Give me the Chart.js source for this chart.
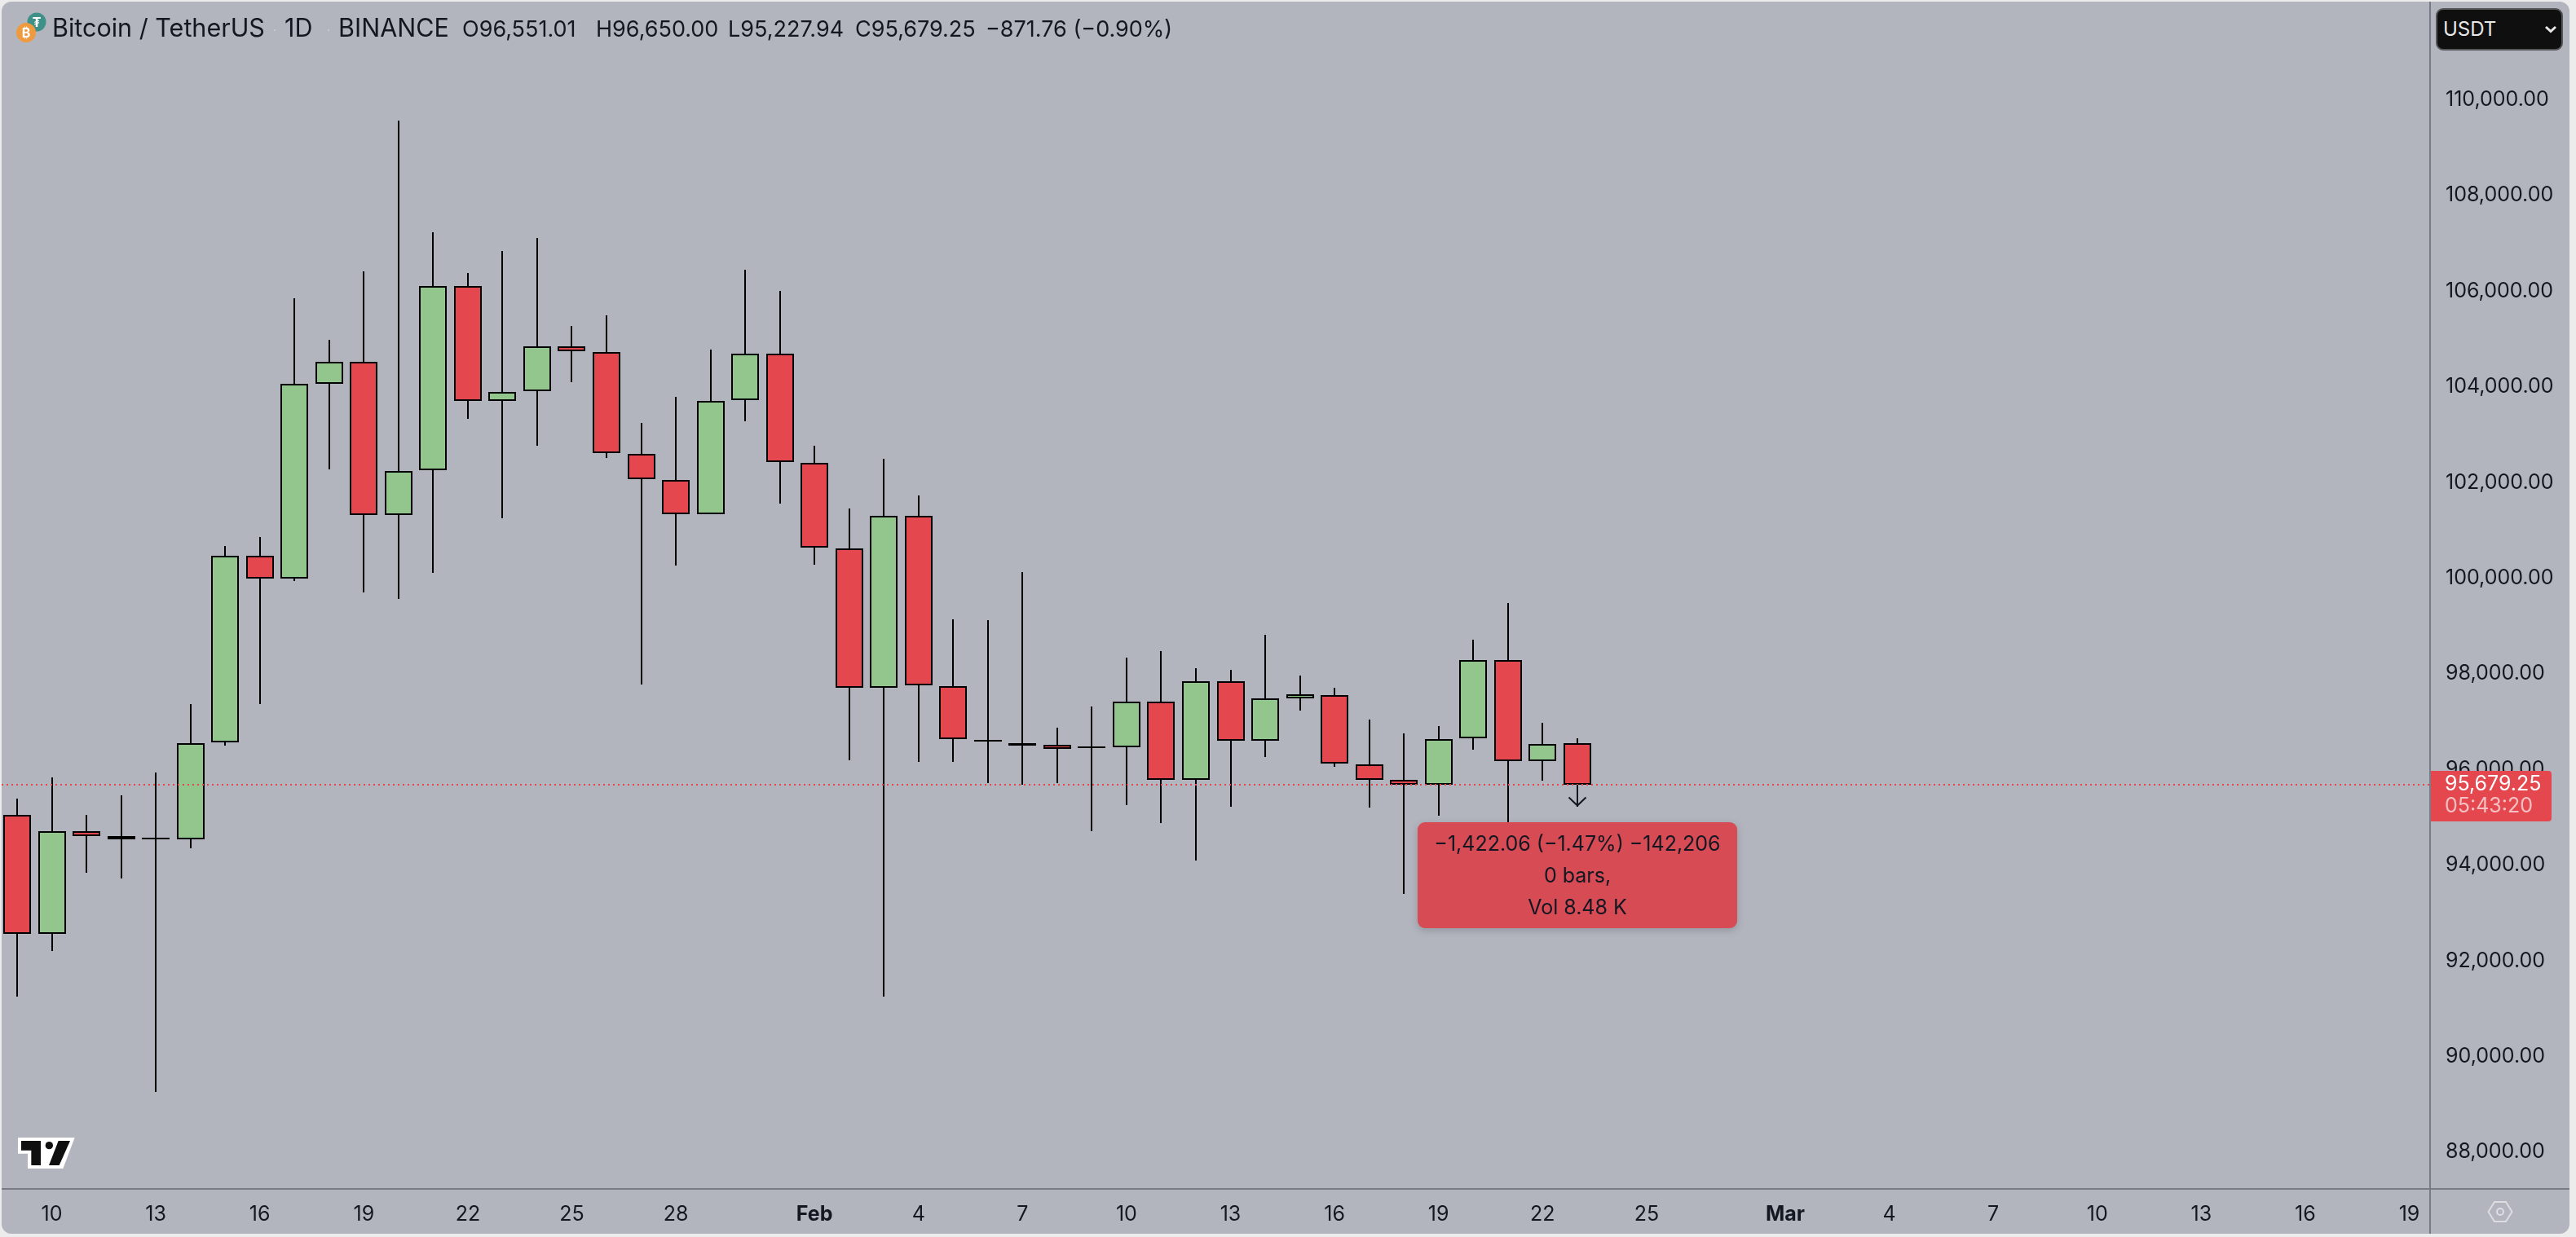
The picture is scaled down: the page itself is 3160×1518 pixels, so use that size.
<!DOCTYPE html>
<html><head><meta charset="utf-8">
<script src="https://cdn.jsdelivr.net/npm/chart.js@4"></script>
<style>
html,body{margin:0;padding:0;background:#ececec;width:3160px;height:1518px;overflow:hidden;font-family:Inter,Roboto,sans-serif}
#panel{position:absolute;left:2px;top:2px;width:3150px;height:1512px;background:#b2b5be;border-radius:12px}
canvas{position:absolute;left:0;top:0}
.t{position:absolute;white-space:nowrap;color:#131722;line-height:1}
#tip{position:absolute;left:1739px;top:1009px;width:392px;height:130px;background:#d64b54;border-radius:9px;box-shadow:0 3px 8px rgba(60,60,70,.25)}
#tip div{position:absolute;left:0;width:100%;text-align:center;color:#131722;font-size:25px;line-height:1}
#lab{position:absolute;left:2982px;top:946px;width:148px;height:62px;background:#e4484e;border-radius:0 4px 4px 0}
#btn{position:absolute;left:2988px;top:10px;width:152px;height:48px;background:#0f0f0f;border:2px solid #55565a;border-radius:9px}
</style></head><body>
<div id="panel"></div>
<canvas id="c" width="3160" height="1518"></canvas>

<svg style="position:absolute;left:18px;top:14px" width="52" height="42" viewBox="18 14 52 42">
  <circle cx="45" cy="27" r="11.5" fill="#3f9088"/>
  <text x="45" y="33" font-size="16" font-weight="700" fill="#fff" text-anchor="middle" font-family="Inter">₮</text>
  <circle cx="32" cy="40" r="12" fill="#ee9a3f"/>
  <text x="32" y="46" font-size="16" font-weight="700" fill="#fff" text-anchor="middle" font-family="Inter">₿</text>
</svg>
<div class="t" style="left:64px;top:19px;font-size:30.5px">Bitcoin / TetherUS</div>
<div class="t" style="left:349px;top:19px;font-size:30.5px">1D</div>
<div class="t" style="left:415px;top:19px;font-size:30.5px">BINANCE</div>
<div class="t" style="left:335px;top:30px;font-size:14px;color:#d7d8dc">·</div>
<div class="t" style="left:401px;top:30px;font-size:14px;color:#d7d8dc">·</div>
<div class="t" style="left:567px;top:22px;font-size:27px">O96,551.01</div>
<div class="t" style="left:731px;top:22px;font-size:27px">H96,650.00</div>
<div class="t" style="left:893px;top:22px;font-size:27px">L95,227.94</div>
<div class="t" style="left:1049px;top:22px;font-size:27px">C95,679.25</div>
<div class="t" style="left:1209px;top:22px;font-size:27px">−871.76 (−0.90%)</div>

<div id="btn"></div>
<div class="t" style="left:2997px;top:24px;font-size:24px;color:#e8e8e8">USDT</div>
<svg style="position:absolute;left:3120px;top:28px" width="18" height="16" viewBox="0 0 18 16"><path d="M3 5 L9 10.5 L15 5" stroke="#e8e8e8" stroke-width="3" fill="none"/></svg>

<div id="lab"></div>
<div class="t" style="left:2999px;top:949px;font-size:25px;color:#fff">95,679.25</div>
<div class="t" style="left:2999px;top:976px;font-size:25px;color:#f3c1c4">05:43:20</div>

<div id="tip">
  <div style="top:14px">−1,422.06 (−1.47%) −142,206</div>
  <div style="top:53px">0 bars,</div>
  <div style="top:92px">Vol 8.48 K</div>
</div>

<svg style="position:absolute;left:22px;top:1396px" width="70" height="38" viewBox="66 108 210 114">
  <polygon points="66,108 275,108 232,222 102,222 102,167 66,167" fill="#fff"/>
  <polygon points="78,120 150,120 150,210 115,210 115,155 78,155" fill="#0f0f0f"/>
  <circle cx="181" cy="137" r="14" fill="#0f0f0f"/>
  <polygon points="215,120 258,120 218,210 180,210" fill="#0f0f0f"/>
</svg>
<svg style="position:absolute;left:3050px;top:1472px" width="34" height="30" viewBox="0 0 34 30">
  <polygon points="2.5,15 10,3 24,3 31.5,15 24,27 10,27" fill="none" stroke="#dddee2" stroke-width="2"/>
  <circle cx="17" cy="15" r="4" fill="none" stroke="#dddee2" stroke-width="2"/>
</svg>

<script>
const opens  = [95049,92562,94708,94606,94564,94538,96565,100467,99990,104061,104521,101318,102255,106106,103703,103908,104845,104726,102596,102051,101336,103721,104692,102409,100620,97707,101301,97741,96625,96555,96514,96480,96463,97417,95782,97843,96599,97485,97553,96105,95782,95679,96650,98286,96174,96551.01];
const highs  = [95390,95833,95049,95458,95935,97366,100671,100858,105850,104981,106412,109564,107230,106378,106838,107111,105271,105492,103244,103789,104777,106446,106003,102767,101455,102494,101727,99138,99121,100126,96872,97315,98337,98473,98116,98082,98814,97962,97707,97042,96753,96906,98712,99479,96974,96650];
const lows   = [91250,92204,93840,93720,89257,94351,96497,97366,99939,102272,99700,99564,100109,103329,101250,102767,104095,102511,97775,100262,101336,103278,101557,100279,96191,91250,96157,96157,95713,95680,95713,94708,95254,94879,94095,95220,96259,97230,96054,95203,93397,95032,96412,94845,95765,95227.94];
const closes = [92562,94708,94599,94538,94538,96548,100467,99990,104061,104521,101318,102238,106106,103703,103891,104845,104743,102613,102068,101336,103703,104692,102426,100637,97707,101301,97758,96633,96575,96505,96429,96446,97417,95782,97843,96599,97485,97571,96122,95782,95679,96633,98286,96174,96531,95679.25];

const priceTicks = [88000,90000,92000,94000,96000,98000,100000,102000,104000,106000,108000,110000];
const dayTickIndex  = [1,4,7,10,13,16,19,23,26,29,32,35,38,41,44,47,51,54,57,60,63,66,69];
const dayTickLabels = ['10','13','16','19','22','25','28','Feb','4','7','10','13','16','19','22','25','Mar','4','7','10','13','16','19'];

const lastPrice = 95679.25;
const arrowIndex = 45;
const arrowPrices = [95679.25, 95227.94];

const UP = '#93c68c', DOWN = '#e4484e', INK = '#000000', AXIS = '#787b86';
const idx = opens.map((_, i) => i);
const X_MIN = -0.447, X_MAX = 69.6;

const axisExtras = {
  id: 'axisExtras',
  afterDatasetsUpdate(chart) {
    chart.data.datasets.forEach((ds, i) => {
      if (ds.type === 'line') return;
      chart.getDatasetMeta(i).data.forEach(el => {
        el.x = Math.round(el.x);
        el.y = Math.round(el.y);
        el.base = Math.round(el.base);
      });
    });
  },
  afterDatasetsDraw(chart) {
    const c = chart.ctx, a = chart.chartArea, xs = chart.scales.x, ys = chart.scales.y;
    c.save();
    c.strokeStyle = AXIS; c.lineWidth = 2;
    c.beginPath();
    c.moveTo(a.left, a.bottom); c.lineTo(3152, a.bottom);
    c.moveTo(a.right, 2); c.lineTo(a.right, 1514);
    c.stroke();
    const ax = Math.round(xs.getPixelForValue(arrowIndex));
    const y0 = ys.getPixelForValue(arrowPrices[0]), y1 = ys.getPixelForValue(arrowPrices[1]);
    c.strokeStyle = '#131722'; c.lineWidth = 2;
    c.beginPath();
    c.moveTo(ax, y0); c.lineTo(ax, y1 - 1);
    c.moveTo(ax - 10.5, y1 - 11); c.lineTo(ax, y1 - 1); c.lineTo(ax + 10.5, y1 - 11);
    c.stroke();
    c.restore();
  }
};

new Chart(document.getElementById('c'), {
  type: 'bar',
  plugins: [axisExtras],
  data: {
    datasets: [
      { type: 'line', order: 0, data: [{x: X_MIN, y: lastPrice}, {x: X_MAX, y: lastPrice}],
        borderColor: DOWN, borderWidth: 2, borderDash: [2, 4], pointRadius: 0, fill: false, tension: 0 },
      { order: 1, grouped: false, barThickness: 34, minBarLength: 2, inflateAmount: 0, borderSkipped: false,
        data: idx.map(i => ({x: i, y: [opens[i], closes[i]]})),
        backgroundColor: idx.map(i => closes[i] >= opens[i] ? UP : DOWN),
        borderColor: INK, borderWidth: 2 },
      { order: 2, grouped: false, barThickness: 2, inflateAmount: 0, borderSkipped: false, borderWidth: 0,
        data: idx.map(i => ({x: i, y: [lows[i], highs[i]]})),
        backgroundColor: INK }
    ]
  },
  options: {
    responsive: false, devicePixelRatio: 1, animation: false,
    layout: {padding: {left: 2, top: 2, right: 8, bottom: 4}},
    plugins: {legend: {display: false}, tooltip: {enabled: false}},
    events: [],
    scales: {
      x: {
        type: 'linear', min: X_MIN, max: X_MAX, offset: false,
        grid: {display: false, drawTicks: false}, border: {display: false},
        afterBuildTicks: s => { s.ticks = dayTickIndex.map(v => ({value: v})); },
        afterFit: s => { s.height = 55; s.paddingLeft = 0; s.paddingRight = 0; },
        ticks: {
          autoSkip: false, maxRotation: 0, padding: 16, color: '#131722',
          font: ctx => { const l = dayTickLabels[ctx.index]; return {family: 'Inter', size: 25, weight: (l === 'Feb' || l === 'Mar') ? '700' : '400'}; },
          callback: (v, i) => dayTickLabels[i]
        }
      },
      y: {
        type: 'linear', position: 'right', min: 87230, max: 112051,
        grid: {display: false, drawTicks: false}, border: {display: false},
        afterBuildTicks: s => { s.ticks = priceTicks.map(v => ({value: v})); },
        afterFit: s => { s.width = 171; s.paddingTop = 0; s.paddingBottom = 0; },
        ticks: {
          autoSkip: false, padding: 19, color: '#131722', crossAlign: 'near',
          font: {family: 'Inter', size: 25},
          callback: v => v.toLocaleString('en-US', {minimumFractionDigits: 2, maximumFractionDigits: 2})
        }
      }
    }
  }
});
</script>
</body></html>
